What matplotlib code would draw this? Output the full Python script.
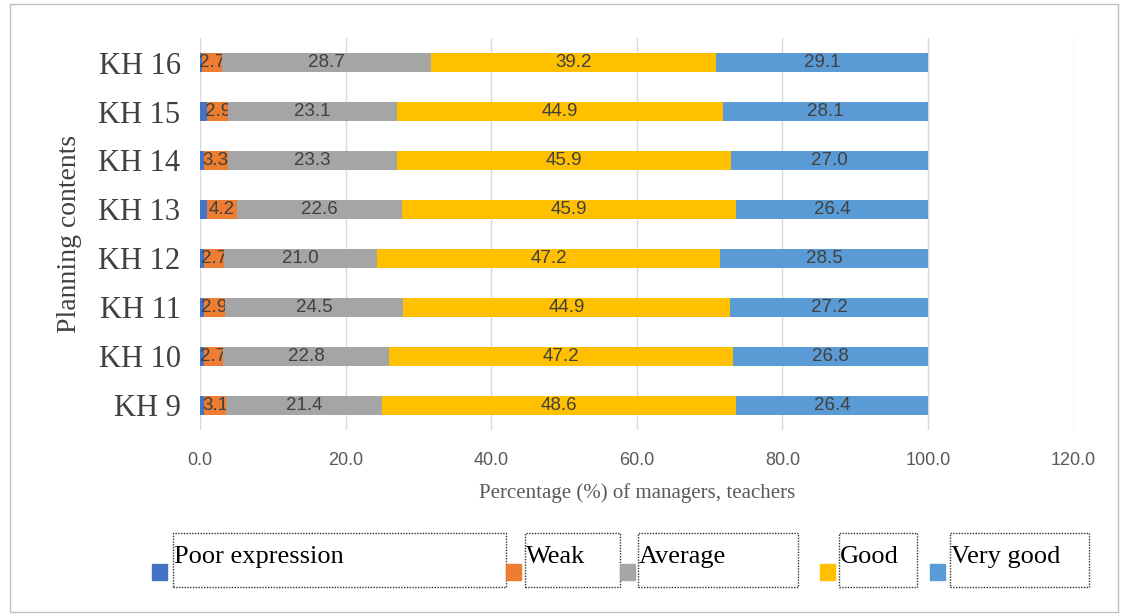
import numpy as np
import matplotlib.pyplot as plt
from matplotlib.patches import Rectangle

# Данные (проценты по каждому содержанию планирования)
contents = ['KH 9', 'KH 10', 'KH 11', 'KH 12', 'KH 13', 'KH 14', 'KH 15', 'KH 16']
poor = [0.5, 0.5, 0.5, 0.6, 0.9, 0.5, 1.0, 0.3]
weak = [3.1, 2.7, 2.9, 2.7, 4.2, 3.3, 2.9, 2.7]
average = [21.4, 22.8, 24.5, 21.0, 22.6, 23.3, 23.1, 28.7]
good = [48.6, 47.2, 44.9, 47.2, 45.9, 45.9, 44.9, 39.2]
very_good = [26.4, 26.8, 27.2, 28.5, 26.4, 27.0, 28.1, 29.1]
levels = ['Poor expression', 'Weak', 'Average', 'Good', 'Very good']
colors = ['#4472C4', '#ED7D31', '#A5A5A5', '#FFC000', '#5B9BD5']

plt.rcParams['font.family'] = ['Liberation Serif']
sans = 'Liberation Sans'

fig = plt.figure(figsize=(11.3, 6.14), dpi=100)
ax = fig.add_axes([0.177, 0.30, 0.773, 0.638])

y = np.arange(len(contents))
left = np.zeros(len(contents))
series = [poor, weak, average, good, very_good]
for i, (vals, col) in enumerate(zip(series, colors)):
    vals = np.array(vals)
    bars = ax.barh(y, vals, left=left, height=0.38, color=col, zorder=3)
    if i > 0:
        ax.bar_label(bars, labels=['%.1f' % v for v in vals], label_type='center',
                     fontsize=13.5, color='#404040', fontfamily=sans)
    left += vals

ax.set_xlim(0, 120)
ax.set_ylim(-0.5, 7.5)
ax.set_xticks(np.arange(0, 121, 20))
ax.set_xticklabels(['%.1f' % t for t in np.arange(0, 121, 20)],
                   fontsize=13, color='#595959', fontfamily=sans)
ax.set_yticks(y)
ax.set_yticklabels(contents, fontsize=22, color='#404040')
ax.tick_params(axis='y', length=0, pad=14)
ax.tick_params(axis='x', length=0, pad=16)
ax.grid(axis='x', color='#D9D9D9', linewidth=1, zorder=0)
for s in ax.spines.values():
    s.set_visible(False)

ax.set_xlabel('Percentage (%) of managers, teachers', fontsize=15,
              color='#595959', labelpad=10)
ax.set_ylabel('Planning contents', fontsize=20, color='#404040', labelpad=12)

# Легенда: маркеры и подписи в пунктирных рамках
W, H = 1130, 614
items = [
    (152, 173, 506),
    (506, 525, 620),
    (620, 638, 798),
    (820, 839, 917),
    (930, 950, 1089),
]
for (mx, bx0, bx1), name, col in zip(items, levels, colors):
    fig.patches.append(Rectangle((mx / W, 1 - 580 / H), 15 / W, 16 / H,
                                 transform=fig.transFigure, color=col))
    fig.patches.append(Rectangle((bx0 / W, 1 - 587 / H), (bx1 - bx0) / W, 54 / H,
                                 transform=fig.transFigure, fill=False,
                                 edgecolor='#333333', linestyle=(0, (1, 1)),
                                 linewidth=1))
    fig.text((bx0 + 1) / W, 1 - 557 / H, name, fontsize=19,
             color='black', va='center', ha='left')

# Рамка вокруг всей диаграммы
fig.patches.append(Rectangle((10 / W, 2 / H), 1108 / W, 608 / H,
                             transform=fig.transFigure, fill=False,
                             edgecolor='#BFBFBF', linewidth=1))

fig.savefig('out.png', dpi=100)
